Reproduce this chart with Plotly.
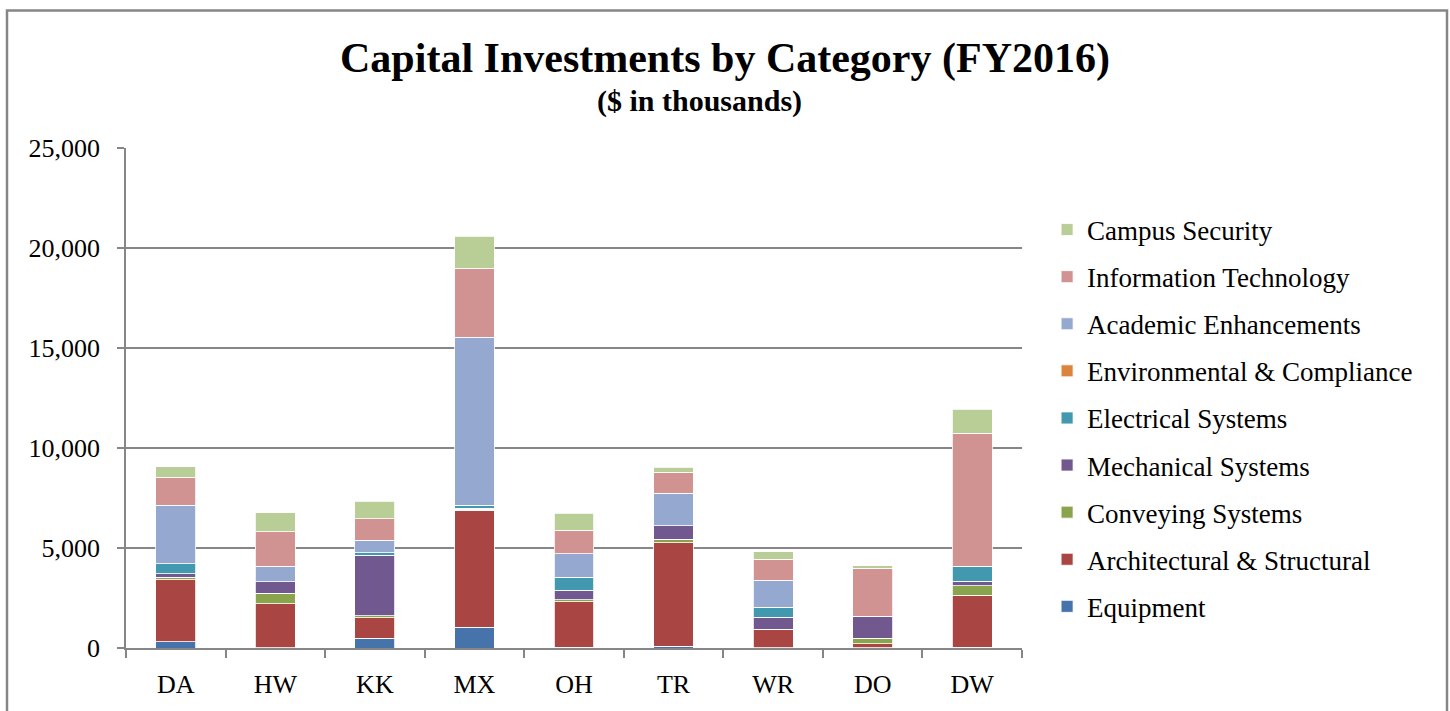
import plotly.graph_objects as go

# Campuses (x categories)
campuses = ["DA", "HW", "KK", "MX", "OH", "TR", "WR", "DO", "DW"]

# $ in thousands (stack order bottom -> top)
equipment = [320, 20, 500, 1030, 30, 100, 20, 20, 30]
architectural = [3090, 2190, 1005, 5860, 2290, 5170, 900, 200, 2600]
conveying = [135, 530, 100, 60, 90, 160, 20, 260, 490]
mechanical = [170, 570, 3045, 40, 470, 690, 610, 1120, 230]
electrical = [500, 0, 120, 150, 650, 0, 500, 0, 750]
environmental = [0, 0, 0, 0, 0, 0, 0, 0, 0]
academic = [2930, 770, 620, 8400, 1190, 1610, 1350, 0, 0]
info_tech = [1390, 1740, 1070, 3440, 1170, 1050, 1050, 2400, 6650]
campus_security = [530, 950, 890, 1620, 850, 270, 370, 120, 1180]

series = [
    ("Equipment", equipment, "#4673A9"),
    ("Architectural & Structural", architectural, "#A94644"),
    ("Conveying Systems", conveying, "#8AA44D"),
    ("Mechanical Systems", mechanical, "#71588F"),
    ("Electrical Systems", electrical, "#4198AF"),
    ("Environmental & Compliance", environmental, "#DB843D"),
    ("Academic Enhancements", academic, "#95A9D0"),
    ("Information Technology", info_tech, "#D19392"),
    ("Campus Security", campus_security, "#B9CE96"),
]

SERIF = "Liberation Serif"
GRAY = "#868686"

fig = go.Figure()
for i, (name, vals, color) in enumerate(series):
    fig.add_trace(go.Bar(
        x=campuses, y=vals, name=name, legendgroup=name,
        legendrank=1000 - i,  # top of stack listed first
        marker=dict(color=color, line=dict(color="white", width=0.8)),
    ))

fig.update_layout(
    barmode="stack",
    bargap=0.6,
    width=1450, height=711,
    margin=dict(l=126, r=428, t=148, b=61),
    paper_bgcolor="white",
    plot_bgcolor="white",
    font=dict(family=SERIF, color="black"),
    title=dict(
        text="<b>Capital Investments by Category (FY2016)</b>",
        font=dict(family=SERIF, size=42, color="black"),
        x=0.5, xref="container", xanchor="center",
        y=1 - 57 / 711, yref="container", yanchor="middle",
    ),
    legend=dict(
        x=1.028, xanchor="left",
        y=0.885, yanchor="top",
        traceorder="grouped",
        tracegroupgap=9,
        font=dict(family=SERIF, size=27, color="black"),
        bgcolor="rgba(0,0,0,0)",
    ),
    showlegend=True,
)

fig.add_annotation(
    text="<b>($ in thousands)</b>",
    xref="paper", yref="paper",
    x=(699 - 126) / 896, y=1 + (148 - 101) / 502,
    xanchor="center", yanchor="middle",
    showarrow=False,
    font=dict(family=SERIF, size=30, color="black"),
)

# outer chart border
fig.add_shape(
    type="rect", xref="paper", yref="paper",
    x0=(7 - 126) / 896, x1=(1447 - 126) / 896,
    y0=-0.2, y1=1 + (148 - 10) / 502,
    line=dict(color=GRAY, width=2.5),
    fillcolor="rgba(0,0,0,0)",
    layer="below",
)

fig.update_yaxes(
    range=[0, 25000],
    tickvals=[0, 5000, 10000, 15000, 20000, 25000],
    tickformat=",d",
    showgrid=True, gridcolor=GRAY, gridwidth=1.5,
    showline=True, linecolor=GRAY, linewidth=1.5,
    ticks="outside", ticklen=7, tickcolor=GRAY, tickwidth=1.5,
    ticklabelstandoff=12,
    tickfont=dict(family=SERIF, size=26, color="black"),
    zeroline=False,
)
fig.update_xaxes(
    type="category",
    showline=True, linecolor=GRAY, linewidth=1.5,
    ticks="outside", tickson="boundaries", ticklen=8, tickcolor=GRAY, tickwidth=1.5,
    ticklabelstandoff=12,
    tickfont=dict(family=SERIF, size=26, color="black"),
    showgrid=False,
)

fig.write_html(
    "out.html",
    config={"displayModeBar": False},
    post_script="document.body.style.margin='0px';",
)
